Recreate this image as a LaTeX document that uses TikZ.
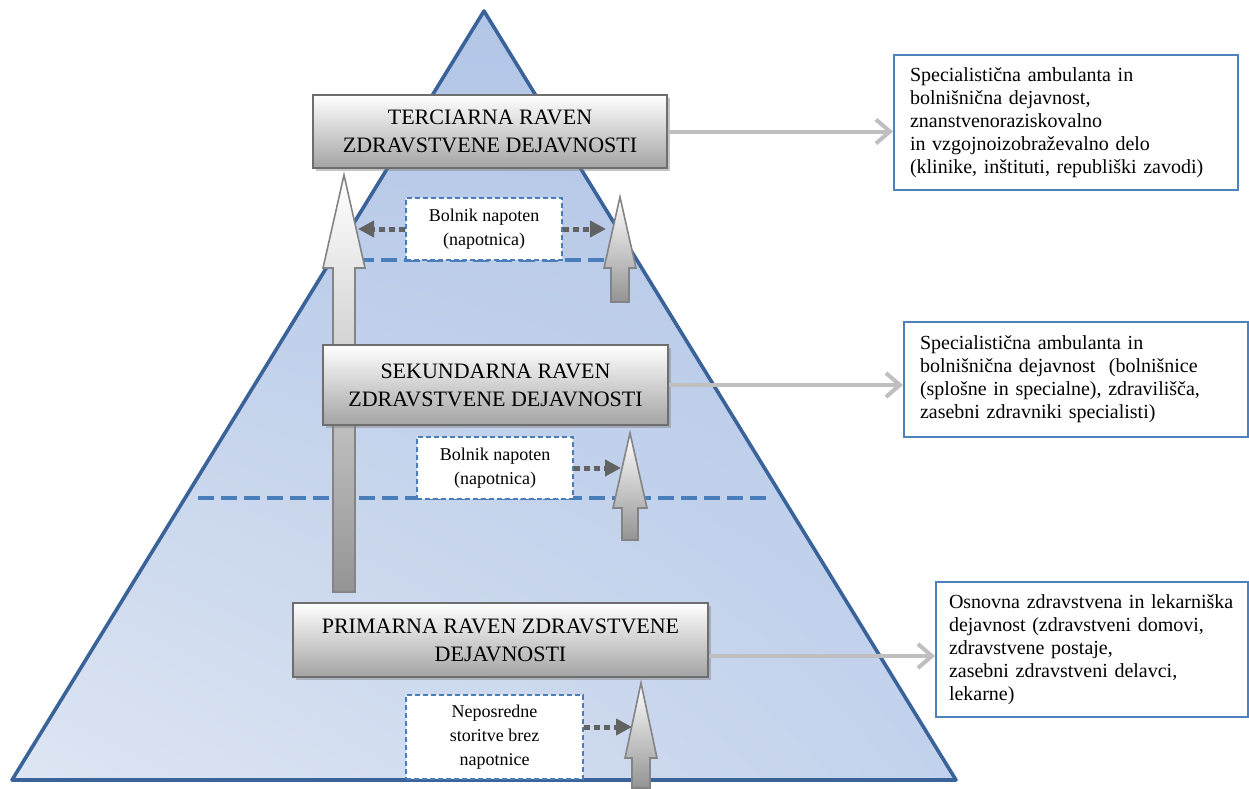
\documentclass[tikz,border=0pt]{standalone}
\usepackage{fontspec}
\setmainfont{Liberation Serif}
\usetikzlibrary{arrows.meta,calc,positioning,shadows,shadings}
\definecolor{PyrEdge}{HTML}{3A6399}
\definecolor{PyrTop}{HTML}{B3C6E7}
\definecolor{PyrLeft}{HTML}{DEE6F3}
\definecolor{PyrRight}{HTML}{C3D2EC}
\definecolor{LevelBlue}{HTML}{4A7EBB}
\definecolor{BoxBlue}{HTML}{4F81BD}
\definecolor{LinkGrey}{HTML}{BFBFBF}
\definecolor{DotGrey}{HTML}{626262}
\definecolor{FrameGrey}{HTML}{6E6E6E}

\begin{document}
\begin{tikzpicture}[x=0.5pt,y=-0.5pt,
    level/.style={draw=FrameGrey,line width=1pt,top color=white,bottom color=black!36,
      drop shadow={shadow xshift=1.5pt,shadow yshift=-1.5pt,opacity=0.45},
      align=center,inner sep=2pt,font=\fontsize{11}{14}\selectfont},
    note/.style={draw=LevelBlue,dash pattern=on 2.5pt off 1.5pt,line width=0.6pt,
      fill=white,align=center,inner sep=2pt,font=\fontsize{9}{12}\selectfont},
    info/.style={draw=BoxBlue,line width=1pt,fill=white,align=left,inner xsep=8pt,
      anchor=west,font=\fontsize{10}{11.5}\selectfont},
    link/.style={LinkGrey,line width=2pt,-{Straight Barb[length=7pt,width=12pt]}},
    refer/.style={DotGrey,line width=2.5pt,dash pattern=on 3pt off 2pt,
      -{Triangle[length=8pt,width=8pt]}},
    border/.style={LevelBlue,line width=2pt,dash pattern=on 8pt off 3.5pt}]
  \useasboundingbox (0,0) rectangle (1249,788);

  % pyramid
  \draw[PyrEdge,line width=1.8pt,line join=round,
    upper left=PyrTop,upper right=PyrTop,lower left=PyrLeft,lower right=PyrRight]
    (484,11) -- (956,780) -- (12,780) -- cycle;
  \draw[border] (335,260) -- (632,260);
  \draw[border] (198,498) -- (770,498);

  % block arrows
  \foreach \cx/\ty/\hy/\by/\hw/\sw in {344/175/268/592/21/11,620/197/268/302/16/9,
      630/433/508/540/17/8,641/683/758/788/16/9}{
    \draw[FrameGrey!85,line width=0.8pt,top color=white,bottom color=black!42]
      (\cx,\ty) -- (\cx+\hw,\hy) -- (\cx+\sw,\hy) -- (\cx+\sw,\by)
      -- (\cx-\sw,\by) -- (\cx-\sw,\hy) -- (\cx-\hw,\hy) -- cycle;
  }
  \coordinate (bigside) at (358,229);
  \coordinate (upA) at (606,229);
  \coordinate (upB) at (621,468);
  \coordinate (upC) at (632,727);

  \node[note,minimum width=78pt,minimum height=31pt] (referA) at (484,229)
    {Bolnik napoten\\(napotnica)};
  \node[note,minimum width=78pt,minimum height=31pt] (referB) at (495,468)
    {Bolnik napoten\\(napotnica)};
  \node[note,minimum width=88.5pt,minimum height=42pt] (directC) at (494.5,737)
    {Neposredne\\storitve brez\\napotnice};

  % levels
  \node[level,minimum width=177pt,minimum height=36.5pt] (tercl) at (490,131.5)
    {TERCIARNA RAVEN\\ZDRAVSTVENE DEJAVNOSTI};
  \node[level,minimum width=172.5pt,minimum height=40pt] (sekl) at (495.5,385)
    {SEKUNDARNA RAVEN\\ZDRAVSTVENE DEJAVNOSTI};
  \node[level,minimum width=207.5pt,minimum height=37pt] (priml) at (500.5,640)
    {PRIMARNA RAVEN ZDRAVSTVENE\\DEJAVNOSTI};

  % descriptions
  \node[info,text width=156pt,minimum height=67.5pt] (tercinfo) at (893,122.5)
    {Specialistična ambulanta in\\bolnišnična dejavnost,\\znanstvenoraziskovalno\\
     in vzgojnoizobraževalno delo\\(klinike, inštituti, republiški zavodi)};
  \node[info,text width=156pt,minimum height=57.5pt] (sekinfo) at (903,379.5)
    {Specialistična ambulanta in\\bolnišnična dejavnost \ (bolnišnice\\
     (splošne in specialne), zdravilišča,\\zasebni zdravniki specialisti)};
  \node[info,inner xsep=6.5pt,text width=143pt,minimum height=67.5pt] (priminfo) at (935,649.5)
    {Osnovna zdravstvena in lekarniška\\dejavnost (zdravstveni domovi,\\
     zdravstvene postaje,\\zasebni zdravstveni delavci,\\lekarne)};

  \draw[link] (tercl.east) -- (tercl.east -| tercinfo.west);
  \draw[link] (sekl.east) -- (sekl.east -| sekinfo.west);
  \draw[link] ([yshift=-8pt]priml.east) -- ([yshift=-8pt]priml.east -| priminfo.west);

  \draw[refer] (referA.west) -- (bigside);
  \draw[refer] (referA.east) -- (upA);
  \draw[refer] (referB.east) -- (upB);
  \draw[refer] (directC.east |- upC) -- (upC);
\end{tikzpicture}
\end{document}
